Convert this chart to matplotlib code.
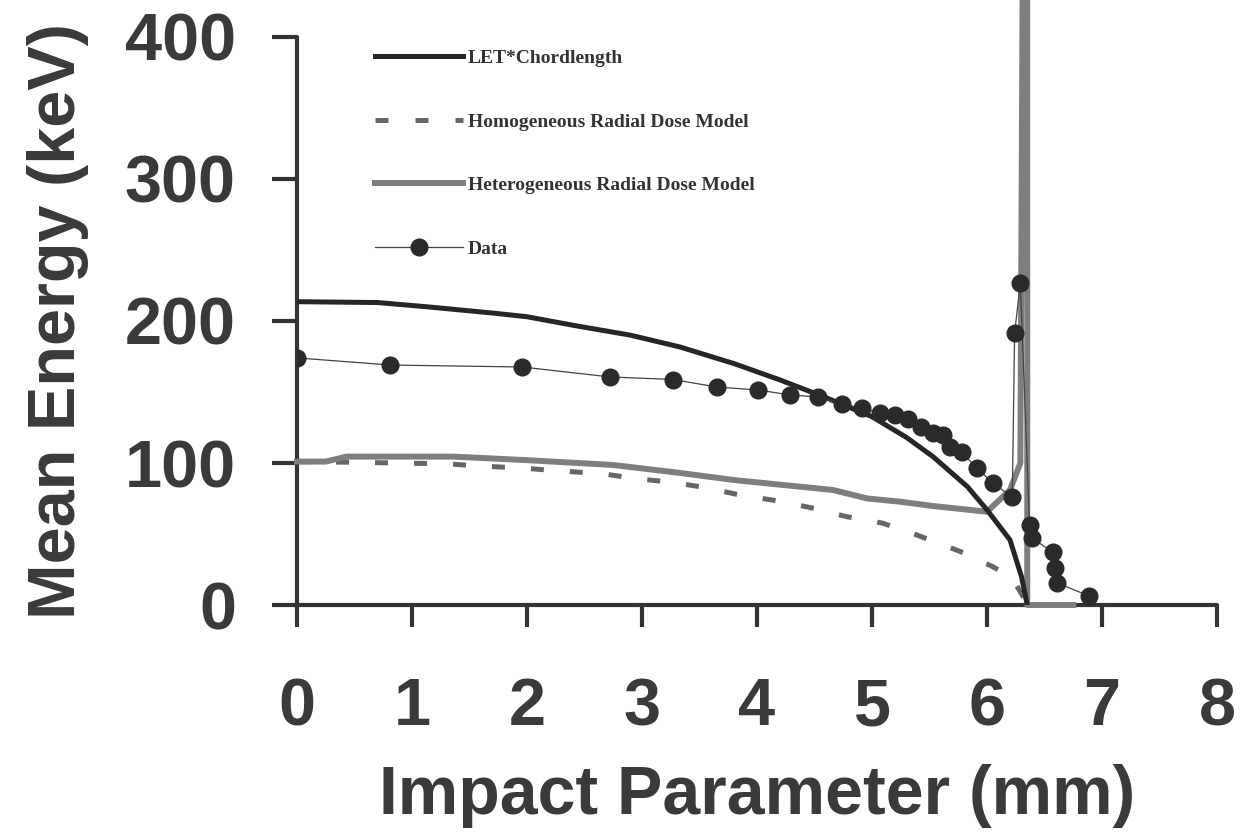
import matplotlib
matplotlib.use("Agg")
import matplotlib.pyplot as plt
from matplotlib.lines import Line2D

# LET*Chordlength
let_x = [0, 0.7, 1.13, 1.7, 2.0, 2.4, 2.9, 3.33, 3.8, 4.2, 4.6, 5.0, 5.3, 5.53, 5.83, 6.0, 6.2, 6.3, 6.35]
let_y = [213.6, 213, 210, 205.6, 203, 197, 190, 181.7, 170, 158.5, 146, 132.6, 118, 104.5, 83.3, 67, 45.8, 20, 0]

# Homogeneous Radial Dose Model
homo_x = [0, 0.5, 1.0, 1.3, 1.55, 1.95, 2.25, 2.65, 2.95, 3.25, 3.53, 3.85, 4.22, 4.48, 4.78,
          5.09, 5.39, 5.77, 6.05, 6.22, 6.32]
homo_y = [101, 100.5, 99.8, 99.5, 98, 96.5, 94.6, 92.5, 89, 86.5, 83, 77.5, 72.8, 68.3, 62.2,
          57.7, 49.3, 37.6, 27, 19, 5]

# Heterogeneous Radial Dose Model
het_x = [0, 0.25, 0.43, 1.36, 2.0, 2.75, 3.33, 3.8, 4.66, 4.96, 5.24, 5.53, 6.0, 6.2, 6.29,
         6.31, 6.35, 6.35, 6.75]
het_y = [101, 101, 104.5, 104.5, 102, 98.6, 93, 88, 81, 75, 72.8, 69.7, 65.7, 81, 100,
         440, 440, 0, 0]

# Data
data_x = [0, 0.81, 1.96, 2.72, 3.27, 3.65, 4.01, 4.29, 4.53, 4.74, 4.91, 5.07, 5.2, 5.31, 5.43,
          5.53, 5.62, 5.68, 5.78, 5.91, 6.05, 6.22, 6.24, 6.29, 6.37, 6.39, 6.57, 6.59, 6.61, 6.89]
data_y = [174, 169, 167.6, 160.6, 158.8, 153.5, 151.4, 147.9, 146.5, 141.5, 138.7, 135.2, 133.8,
          131, 125.4, 121.1, 119.7, 111.3, 107.7, 96.5, 85.9, 76, 191.5, 226.8, 56.3, 47.2, 37.3,
          26, 15.5, 6.3]

labels = ["LET*Chordlength", "Homogeneous Radial Dose Model",
          "Heterogeneous Radial Dose Model", "Data"]

txt = "#3a3a3a"
plt.rcParams['font.family'] = ['Liberation Sans', 'DejaVu Sans']

fig = plt.figure(figsize=(12.45, 8.33), dpi=100)
ax = fig.add_axes([0.2386, 0.2737, 0.7389, 0.6819])

ax.plot(homo_x, homo_y, color="#666666", lw=3.6, dashes=(2.6, 5.2),
        solid_capstyle="butt", dash_capstyle="butt", zorder=2)
ax.plot(het_x, het_y, color="#7e7e7e", lw=4.3, clip_on=False, zorder=3)
ax.plot(let_x, let_y, color="#262626", lw=3.6, zorder=4)
ax.plot(data_x, data_y, color="#444444", lw=0.9, marker="o", ms=12,
        mfc="#2a2a2a", mec="#2a2a2a", zorder=5)

ax.set_xlim(0, 8)
ax.set_ylim(0, 400)
ax.set_xticks(range(0, 9))
ax.set_yticks([0, 100, 200, 300, 400])
for s in ["top", "right"]:
    ax.spines[s].set_visible(False)
for s in ["left", "bottom"]:
    ax.spines[s].set_linewidth(3)
    ax.spines[s].set_color("#333333")
    ax.spines[s].set_capstyle("round")
ax.tick_params(axis="x", direction="out", length=16, width=3, color="#333333", pad=36,
               labelsize=48, labelcolor=txt)
ax.tick_params(axis="y", direction="out", length=18, width=3, color="#333333", pad=26,
               labelsize=48, labelcolor=txt)
for lab in ax.get_xticklabels() + ax.get_yticklabels():
    lab.set_fontweight("bold")

ax.set_xlabel("Impact Parameter (mm)", fontsize=49, fontweight="bold", color=txt, labelpad=18)
ax.set_ylabel("Mean Energy (keV)", fontsize=48, fontweight="bold", color=txt, labelpad=26)

handles = [
    Line2D([], [], color="#262626", lw=3.6),
    Line2D([], [], color="#666666", lw=3.6, dashes=(2.6, 5.4), dash_capstyle="butt"),
    Line2D([], [], color="#7e7e7e", lw=4.3),
    Line2D([], [], color="#444444", lw=0.9, marker="o", ms=12, mfc="#2a2a2a", mec="#2a2a2a"),
]
leg = ax.legend(handles, labels, loc="upper left", bbox_to_anchor=(0.085, 0.978),
                frameon=False, borderpad=0, borderaxespad=0, handlelength=4.5,
                handletextpad=0.25, labelspacing=2.36,
                prop={"family": "Liberation Serif", "weight": "bold", "size": 14})
for t in leg.get_texts():
    t.set_color("#333333")

fig.savefig("out.png", dpi=100)
